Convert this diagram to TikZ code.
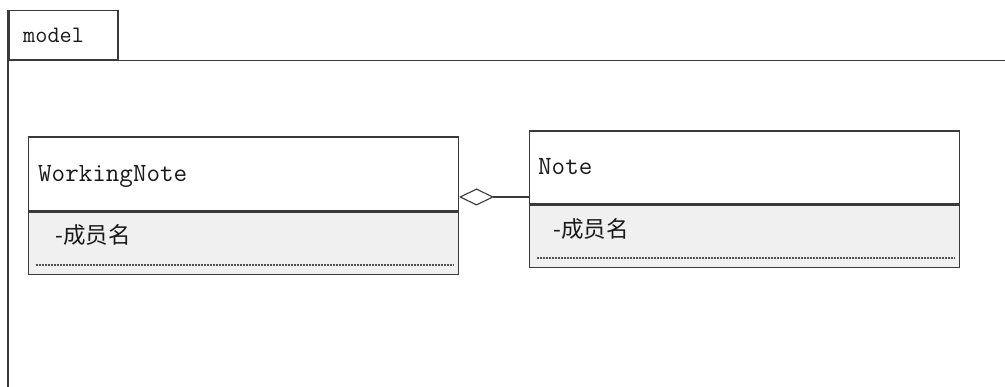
\documentclass[tikz,border=0pt]{standalone}
\usepackage{fontspec}
\newfontfamily\cjkfont{Noto Sans CJK SC}
\usetikzlibrary{arrows.meta}
\definecolor{linecol}{HTML}{3A3A3A}
\definecolor{attrfill}{HTML}{F0F0F0}
\definecolor{dotcol}{HTML}{505050}
\begin{document}
\begin{tikzpicture}[x=1pt,y=-1pt,
  frame/.style={draw=linecol, line width=1.5pt},
  tabbox/.style={draw=linecol, line width=1.5pt, anchor=north west, inner sep=0pt},
  boxhead/.style={draw=linecol, line width=1.5pt, fill=white, anchor=north west, inner sep=0pt},
  boxattr/.style={draw=linecol, line width=1.5pt, fill=attrfill, anchor=north west, inner sep=0pt},
  pkgname/.style={font=\fontsize{23.6}{28}\selectfont\ttfamily, text=black!90, anchor=base west, inner sep=0pt},
  classname/.style={font=\fontsize{26.3}{30}\selectfont\ttfamily, text=black!90, anchor=base west, inner sep=0pt},
  attrtext/.style={font=\fontsize{22.5}{26}\selectfont\cjkfont, text=black!90, anchor=base west, inner sep=0pt},
  dotline/.style={draw=dotcol, line width=1.2pt, dash pattern=on 2pt off 1pt},
  aggr/.style={draw=linecol, line width=1.1pt, -{Diamond[open, length=35pt, width=17pt]}}]

\useasboundingbox (0,0) rectangle (1005,387);
\fill[white] (0,0) rectangle (1005,387);

% package frame
\node[tabbox, minimum width=109pt, minimum height=49pt] (tab) at (8,10) {};
\node[pkgname] (tablabel) at (23,43) {model};
\coordinate (frameend) at (1005,387);
\draw[frame] (tab.south west) -- (tab.south west -| frameend);
\draw[frame] (tab.north west) -- (tab.north west |- frameend);

% WorkingNote
\node[boxhead, minimum width=430pt, minimum height=74pt] (wnhead) at (27.5,136.5) {};
\node[boxattr, minimum width=430pt, minimum height=62pt] (wnattr) at (wnhead.south west) {};
\node[classname] (wnname) at (38,182) {WorkingNote};
\node[attrtext] (wnattrtext) at (55,244) {-成员名};
\draw[dotline] ([shift={(8,-10.5)}]wnattr.south west) -- ([shift={(-6,-10.5)}]wnattr.south east);

% Note
\node[boxhead, minimum width=430pt, minimum height=73pt] (notehead) at (528.5,130.5) {};
\node[boxattr, minimum width=430pt, minimum height=62pt] (noteattr) at (notehead.south west) {};
\node[classname] (notename) at (538,175) {Note};
\node[attrtext] (noteattrtext) at (553,238) {-成员名};
\draw[dotline] ([shift={(8,-10.5)}]noteattr.south west) -- ([shift={(-6,-10.5)}]noteattr.south east);

% aggregation
\coordinate (aggy) at (0,197);
\draw[aggr] (notehead.west |- aggy) -- (wnhead.east |- aggy);
\end{tikzpicture}
\end{document}
